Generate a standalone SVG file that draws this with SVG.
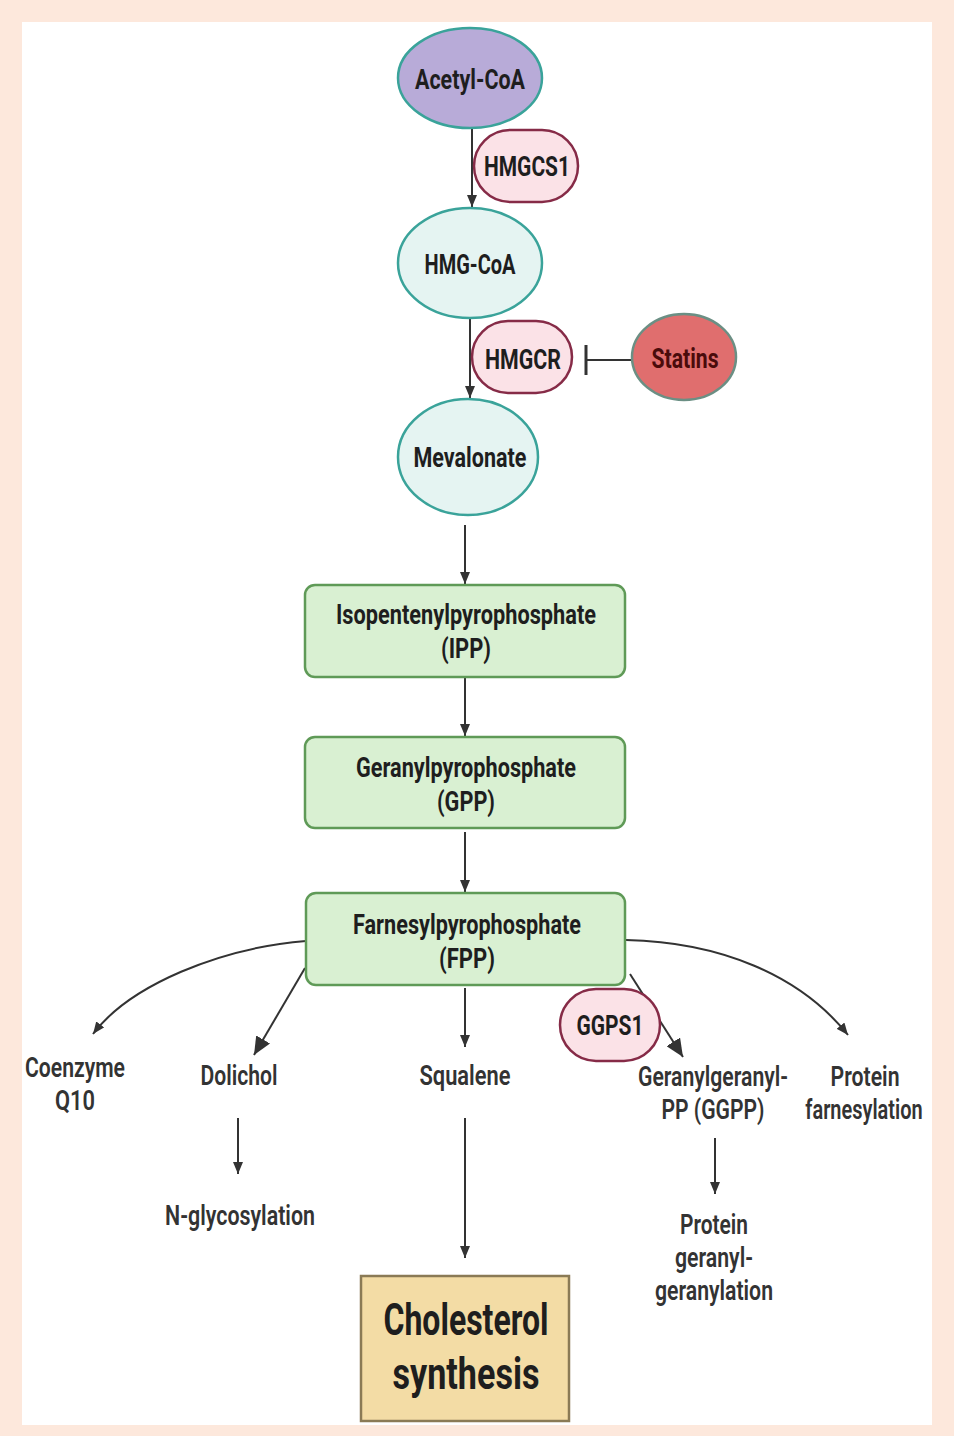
<svg xmlns="http://www.w3.org/2000/svg" width="954" height="1436" viewBox="0 0 954 1436">
<style>
text{font-family:Roboto,"Liberation Sans",sans-serif;font-weight:700;fill:#1e1e1e;text-anchor:middle;font-size:27px}
.lbl{fill:#333;font-weight:600}
.enz{fill:#fbe2e7;stroke:#862b47;stroke-width:2.5}
.met{fill:#e5f4f2;stroke:#3aa39a;stroke-width:2.5}
.box{fill:#d9f0d2;stroke:#5f9a57;stroke-width:2.5}
.ln{fill:none;stroke:#333;stroke-width:2}
</style>
<defs>
<marker id="ah" markerUnits="userSpaceOnUse" markerWidth="12" markerHeight="10" refX="12" refY="5" orient="auto"><path d="M0,0 L12,5 L0,10 z" fill="#333"/></marker>
<marker id="ahL" markerUnits="userSpaceOnUse" markerWidth="18" markerHeight="16" refX="18" refY="8" orient="auto"><path d="M0,0 L18,8 L0,16 z" fill="#333"/></marker>
</defs>
<rect x="0" y="0" width="954" height="1436" fill="#fde8dc"/>
<rect x="22" y="22" width="910" height="1403" fill="#ffffff"/>
<g id="connectors">
<path class="ln" d="M472,128 L472,207" marker-end="url(#ah)"/>
<path class="ln" d="M470,318 L470,398" marker-end="url(#ah)"/>
<path class="ln" d="M632,360 L586,360"/>
<path d="M586,345 L586,375" stroke="#333" stroke-width="3"/>
<path class="ln" d="M465,525 L465,584" marker-end="url(#ah)"/>
<path class="ln" d="M465,677 L465,736" marker-end="url(#ah)"/>
<path class="ln" d="M465,832 L465,892" marker-end="url(#ah)"/>
<path class="ln" d="M306,941 C220,948 130,985 93,1034" marker-end="url(#ah)"/>
<path class="ln" d="M305,968 L254,1055" marker-end="url(#ahL)"/>
<path class="ln" d="M465,988 L465,1047" marker-end="url(#ah)"/>
<path class="ln" d="M630,974 L683,1057" marker-end="url(#ahL)"/>
<path class="ln" d="M626,940 C720,942 800,975 848,1035" marker-end="url(#ah)"/>
<path class="ln" d="M238,1118 L238,1174" marker-end="url(#ah)"/>
<path class="ln" d="M715,1138 L715,1194" marker-end="url(#ah)"/>
<path class="ln" d="M465,1118 L465,1258" marker-end="url(#ah)"/>
</g>
<g id="acetylcoa"><ellipse cx="470" cy="78" rx="72" ry="50" fill="#b8abd8" stroke="#3aa39a" stroke-width="2.5"/><text x="470" y="89" textLength="110" lengthAdjust="spacingAndGlyphs">Acetyl-CoA</text></g>
<g id="hmgcs1"><rect class="enz" x="474" y="130" width="104" height="72" rx="36"/><text x="527" y="176" textLength="86" lengthAdjust="spacingAndGlyphs">HMGCS1</text></g>
<g id="hmgcoa"><ellipse class="met" cx="470" cy="263" rx="72" ry="55"/><text x="470" y="274" textLength="91" lengthAdjust="spacingAndGlyphs">HMG-CoA</text></g>
<g id="hmgcr"><rect class="enz" x="472" y="321" width="100" height="72" rx="36"/><text x="523" y="369" textLength="76" lengthAdjust="spacingAndGlyphs">HMGCR</text></g>
<g id="statins"><ellipse cx="684" cy="357" rx="52" ry="43" fill="#e06e6e" stroke="#6b8f84" stroke-width="2.5"/><text x="685" y="368" textLength="67" lengthAdjust="spacingAndGlyphs" style="fill:#4a0b0b">Statins</text></g>
<g id="mevalonate"><ellipse class="met" cx="468" cy="457" rx="70" ry="58"/><text x="470" y="467" textLength="113" lengthAdjust="spacingAndGlyphs">Mevalonate</text></g>
<g id="ipp"><rect class="box" x="305" y="585" width="320" height="92" rx="10"/><text x="466" y="624" textLength="260" lengthAdjust="spacingAndGlyphs">Isopentenylpyrophosphate</text><text x="466" y="658" textLength="50" lengthAdjust="spacingAndGlyphs">(IPP)</text></g>
<g id="gpp"><rect class="box" x="305" y="737" width="320" height="91" rx="10"/><text x="466" y="777" textLength="220" lengthAdjust="spacingAndGlyphs">Geranylpyrophosphate</text><text x="466" y="811" textLength="58" lengthAdjust="spacingAndGlyphs">(GPP)</text></g>
<g id="fpp"><rect class="box" x="306" y="893" width="319" height="92" rx="10"/><text x="467" y="934" textLength="228" lengthAdjust="spacingAndGlyphs">Farnesylpyrophosphate</text><text x="467" y="968" textLength="56" lengthAdjust="spacingAndGlyphs">(FPP)</text></g>
<g id="ggps1"><rect class="enz" x="560" y="989" width="100" height="72" rx="36"/><text x="610" y="1035" textLength="67" lengthAdjust="spacingAndGlyphs">GGPS1</text></g>
<g id="coq10"><text class="lbl" x="75" y="1077" textLength="100" lengthAdjust="spacingAndGlyphs">Coenzyme</text><text class="lbl" x="75" y="1110" textLength="40" lengthAdjust="spacingAndGlyphs">Q10</text></g>
<g id="dolichol"><text class="lbl" x="239" y="1085" textLength="77" lengthAdjust="spacingAndGlyphs">Dolichol</text></g>
<g id="nglyco"><text class="lbl" x="240" y="1225" textLength="150" lengthAdjust="spacingAndGlyphs">N-glycosylation</text></g>
<g id="squalene"><text class="lbl" x="465" y="1085" textLength="91" lengthAdjust="spacingAndGlyphs">Squalene</text></g>
<g id="ggpp"><text class="lbl" x="713" y="1086" textLength="150" lengthAdjust="spacingAndGlyphs">Geranylgeranyl-</text><text class="lbl" x="713" y="1119" textLength="103" lengthAdjust="spacingAndGlyphs">PP (GGPP)</text></g>
<g id="pfarn"><text class="lbl" x="865" y="1086" textLength="69" lengthAdjust="spacingAndGlyphs">Protein</text><text class="lbl" transform="translate(864,1119) scale(0.74,1)" x="0" y="0">farnesylation</text></g>
<g id="pgg"><text class="lbl" x="714" y="1234" textLength="68" lengthAdjust="spacingAndGlyphs">Protein</text><text class="lbl" x="714" y="1267" textLength="78" lengthAdjust="spacingAndGlyphs">geranyl-</text><text class="lbl" x="714" y="1300" textLength="118" lengthAdjust="spacingAndGlyphs">geranylation</text></g>
<g id="cholesterol"><rect x="361" y="1276" width="208" height="145" fill="#f3dca5" stroke="#8a7a55" stroke-width="2.5"/><text x="466" y="1335" style="font-size:45px" textLength="165" lengthAdjust="spacingAndGlyphs">Cholesterol</text><text x="466" y="1389" style="font-size:45px" textLength="147" lengthAdjust="spacingAndGlyphs">synthesis</text></g>
</svg>
